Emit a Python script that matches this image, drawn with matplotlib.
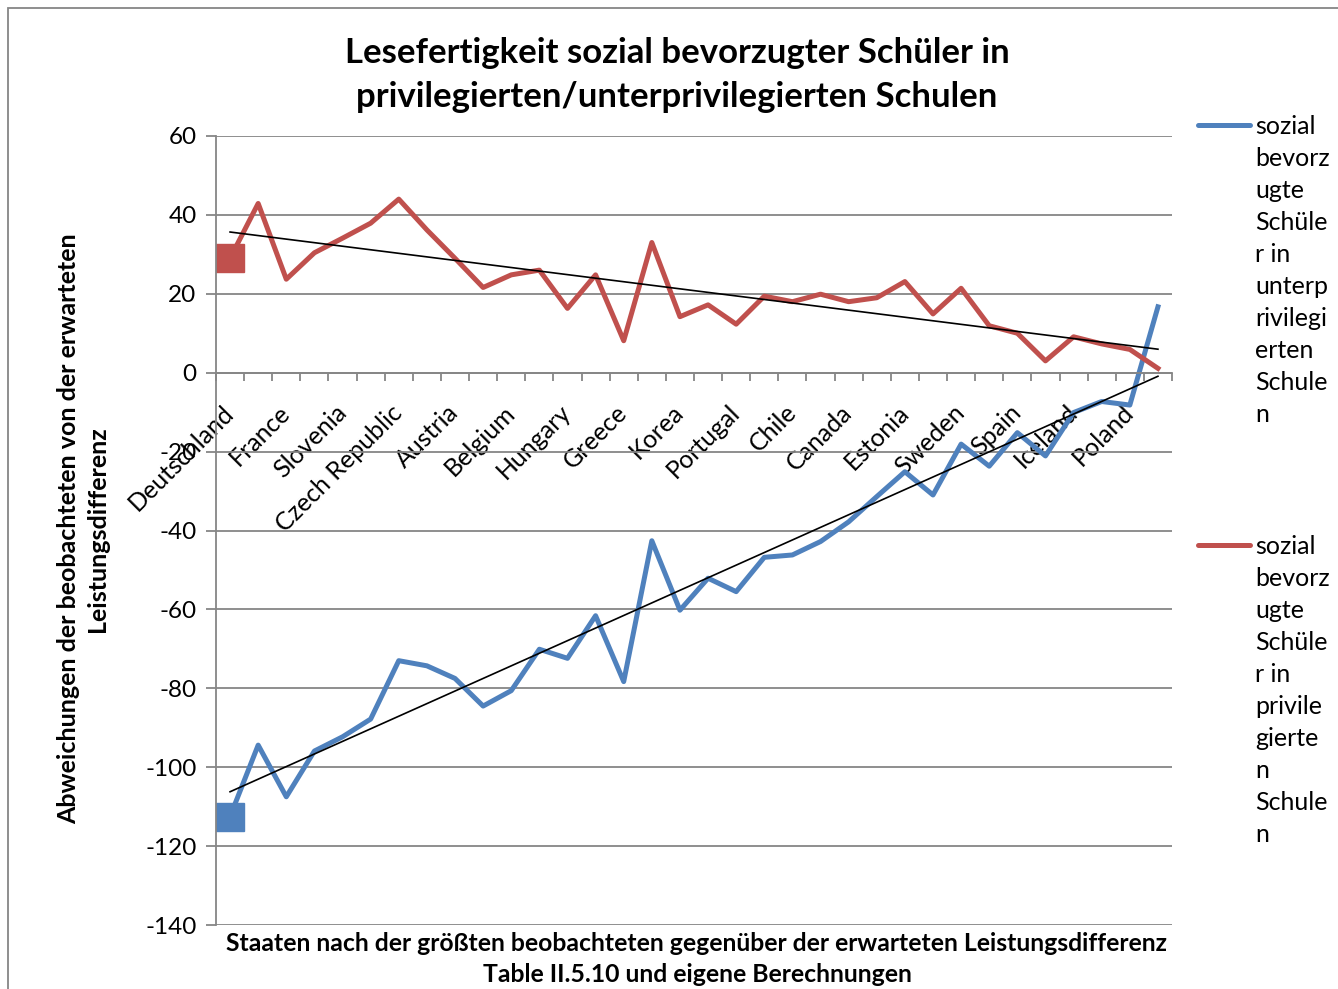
import numpy as np
import matplotlib
matplotlib.use("Agg")
import matplotlib.pyplot as plt
from matplotlib.lines import Line2D
from matplotlib.patches import Rectangle

plt.rcParams['font.family'] = ['Lato', 'DejaVu Sans']
plt.rcParams['axes.unicode_minus'] = False

# values, one per country (34 countries, every second labelled)
privileged = [29, 42.9, 23.7, 30.4, 34.1, 37.9, 44.0, 36.2, 29.0, 21.6,
              24.8, 26.0, 16.3, 24.8, 8.1, 33.0, 14.2, 17.2, 12.3, 19.4,
              18.0, 19.9, 18.0, 19.0, 23.1, 14.9, 21.4, 11.9, 10.0, 3.0,
              9.1, 7.3, 5.9, 1.1]
underprivileged = [-112.5, -94.4, -107.5, -95.9, -92.3, -87.8, -73.0, -74.3, -77.5, -84.5,
                   -80.6, -70.1, -72.4, -61.6, -78.3, -42.6, -60.2, -52.1, -55.5, -46.8,
                   -46.2, -42.8, -37.8, -31.4, -25.1, -31.0, -18.1, -23.7, -15.2, -21.1,
                   -10.1, -7.3, -8.2, 16.7]
shown_labels = ["Deutschland", "France", "Slovenia", "Czech Republic", "Austria",
                "Belgium", "Hungary", "Greece", "Korea", "Portugal", "Chile",
                "Canada", "Estonia", "Sweden", "Spain", "Iceland", "Poland"]
y_ticks = [60, 40, 20, 0, -20, -40, -60, -80, -100, -120, -140]

label_blue = "sozial\nbevorz\nugte\nSchüle\nr in\nunterp\nrivilegi\nerten\nSchule\nn"
label_red = "sozial\nbevorz\nugte\nSchüle\nr in\nprivile\ngierte\nn\nSchule\nn"

blue = "#4F81BD"
red = "#C0504D"
grey = "#868686"

x = np.arange(len(privileged))

fig = plt.figure(figsize=(13.38, 9.89), dpi=100)
ax = fig.add_axes([216 / 1338, 1 - 925 / 989, 956 / 1338, 789 / 989])

ax.plot(x, underprivileged, color=blue, lw=3.6, solid_joinstyle='round',
        marker='s', markevery=[0], markersize=20)
ax.plot(x, privileged, color=red, lw=3.6, solid_joinstyle='round',
        marker='s', markevery=[0], markersize=20)

# linear trend lines
for vals in (privileged, underprivileged):
    k, d = np.polyfit(x, vals, 1)
    ax.plot(x[[0, -1]], k * x[[0, -1]] + d, color='black', lw=1.2)

ax.set_xlim(-0.5, len(x) - 0.5)
ax.set_ylim(-140, 60)
ax.set_yticks(y_ticks)
ax.grid(axis='y', color=grey, lw=1.3)
ax.set_axisbelow(True)

for s in ('top', 'right'):
    ax.spines[s].set_visible(False)
ax.spines['left'].set_color(grey)
ax.spines['left'].set_linewidth(1.3)
ax.spines['bottom'].set_position(('data', 0))
ax.spines['bottom'].set_color(grey)
ax.spines['bottom'].set_linewidth(1.3)

ax.tick_params(axis='y', length=7, width=1.3, color=grey, labelsize=17.5, pad=7)
ax.set_xticks(x[::2])
ax.set_xticklabels(shown_labels, rotation=45, ha='right', va='center',
                   rotation_mode='anchor', fontsize=18)
ax.set_xticks(np.arange(len(x) + 1) - 0.5, minor=True)
ax.tick_params(axis='x', which='major', length=0, pad=26)
ax.tick_params(axis='x', which='minor', length=6, width=1.3, color=grey)

fig.text(677 / 1338, 1 - 75 / 989,
         "Lesefertigkeit sozial bevorzugter Schüler in\nprivilegierten/unterprivilegierten Schulen",
         ha='center', va='center', fontsize=25, fontweight='bold', linespacing=1.45)
fig.text(83 / 1338, 1 - 529 / 989,
         "Abweichungen der beobachteten von der erwarteten\nLeistungsdifferenz",
         rotation=90, ha='center', va='center', fontsize=18, fontweight='bold',
         linespacing=1.3)
fig.text(697 / 1338, 1 - 959 / 989,
         "Staaten nach der größten beobachteten gegenüber der erwarteten Leistungsdifferenz\n"
         "Table II.5.10 und eigene Berechnungen",
         ha='center', va='center', fontsize=17.8, fontweight='bold', linespacing=1.45)

# legend drawn by hand: handle sits at the first line of the wrapped label
for ytop, col, lab in ((125, blue, label_blue), (545, red, label_red)):
    fig.add_artist(Line2D([1198 / 1338, 1250 / 1338], [1 - ytop / 989] * 2,
                          color=col, lw=3.6, solid_capstyle='round'))
    fig.text(1255 / 1338, 1 - (ytop - 10) / 989, lab, ha='left', va='top',
             fontsize=18, linespacing=1.475)

fig.add_artist(Rectangle((8 / 1338, -0.1), 1.2, 1.1 - 8 / 989, fill=False,
                         edgecolor=grey, lw=1.3, transform=fig.transFigure))

fig.savefig("out.png", dpi=100)
